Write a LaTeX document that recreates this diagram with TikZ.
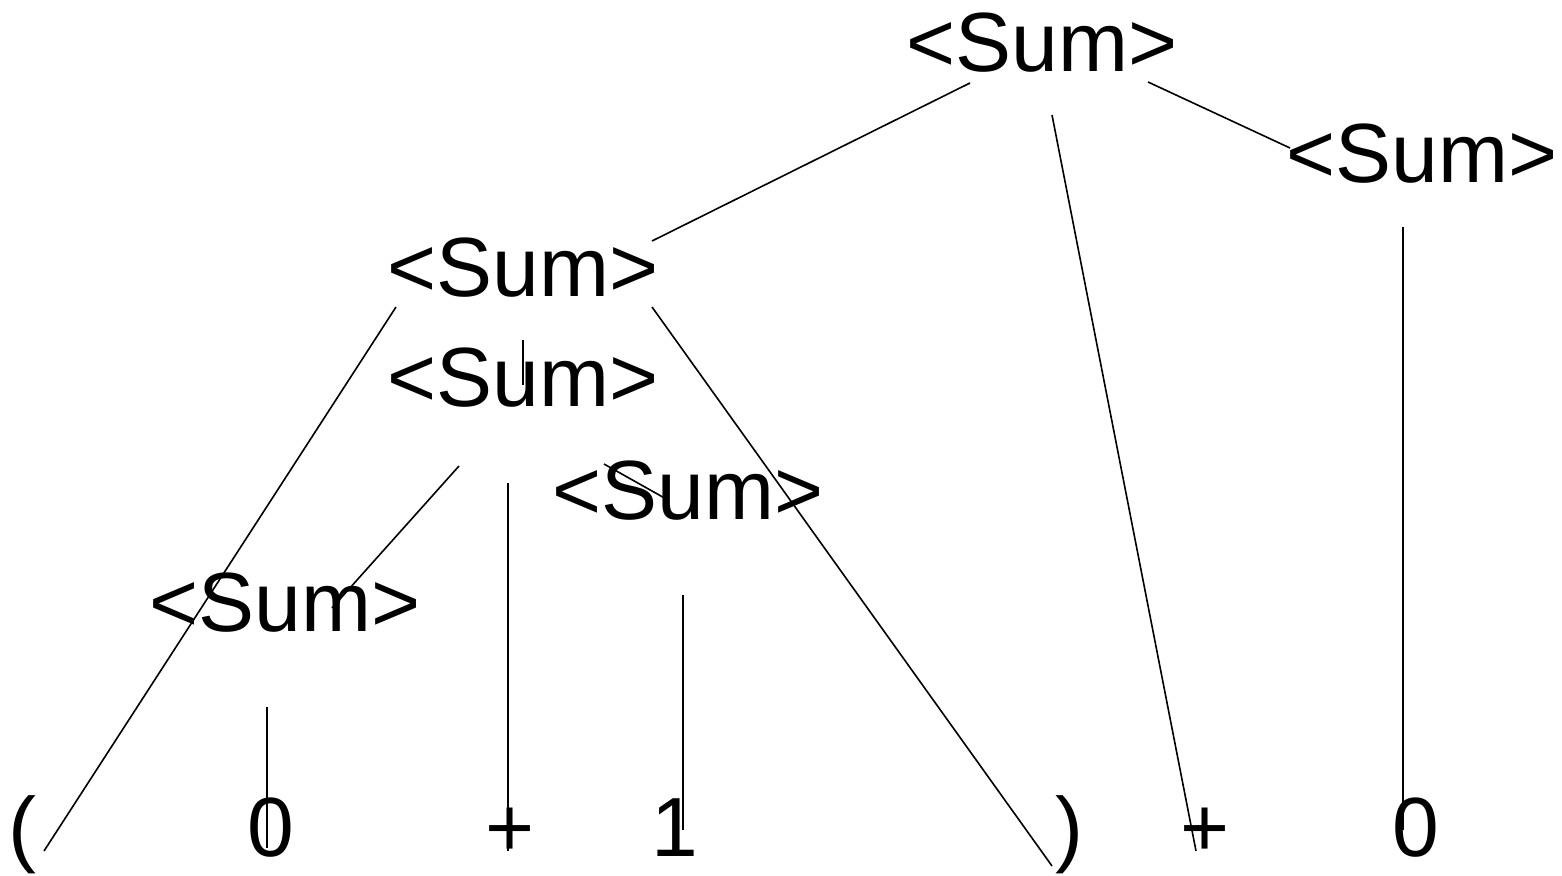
\documentclass[tikz,border=0pt]{standalone}
\usepackage{fontspec}
\setmainfont{Liberation Sans}
\begin{document}
\begin{tikzpicture}[x=0.5pt,y=-0.5pt,
  sym/.style={inner sep=0pt,outer sep=0pt,anchor=base,font=\fontsize{42}{50}\selectfont},
  edge/.style={draw=black,line width=0.8pt}]
\useasboundingbox (0,0) rectangle (1562,876);
% nonterminals
\node[sym] (s1) at (1042,72) {<Sum>};
\node[sym] (s2) at (1422,183) {<Sum>};
\node[sym] (s3) at (523,297) {<Sum>};
\node[sym] (s4) at (523,407) {<Sum>};
\node[sym] (s5) at (688,519) {<Sum>};
\node[sym] (s6) at (285,631) {<Sum>};
% terminals
\node[sym] (lp) at (22,856) {(};
\node[sym] (z1) at (271,856) {0};
\node[sym] (p1) at (510,856) {+};
\node[sym] (o1) at (675,856) {1};
\node[sym] (rp) at (1069,856) {)};
\node[sym] (p2) at (1205,856) {+};
\node[sym] (z2) at (1416,856) {0};
% connector end points
\coordinate (s1a) at (970,83);   \coordinate (s3t) at (652,241);
\coordinate (s1b) at (1052,115); \coordinate (p2t) at (1196,851);
\coordinate (s1c) at (1148,82);  \coordinate (s2t) at (1290,148);
\coordinate (s2a) at (1403,227); \coordinate (z2t) at (1403,830);
\coordinate (s3a) at (396,307);  \coordinate (lpt) at (44,851);
\coordinate (s3b) at (523,340);  \coordinate (s4t) at (523,385);
\coordinate (s3c) at (652,307);  \coordinate (rpt) at (1052,866);
\coordinate (s4a) at (459,466);  \coordinate (s6t) at (332,608);
\coordinate (s4b) at (508,483);  \coordinate (p1t) at (508,851);
\coordinate (s4c) at (604,464);  \coordinate (s5t) at (668,500);
\coordinate (s5a) at (683,595);  \coordinate (o1t) at (683,830);
\coordinate (s6a) at (267,707);  \coordinate (z1t) at (267,848);
% connectors
\draw[edge] (s1a) -- (s3t);
\draw[edge] (s1b) -- (p2t);
\draw[edge] (s1c) -- (s2t);
\draw[edge] (s2a) -- (z2t);
\draw[edge] (s3a) -- (lpt);
\draw[edge] (s3b) -- (s4t);
\draw[edge] (s3c) -- (rpt);
\draw[edge] (s4a) -- (s6t);
\draw[edge] (s4b) -- (p1t);
\draw[edge] (s4c) -- (s5t);
\draw[edge] (s5a) -- (o1t);
\draw[edge] (s6a) -- (z1t);
\end{tikzpicture}
\end{document}
